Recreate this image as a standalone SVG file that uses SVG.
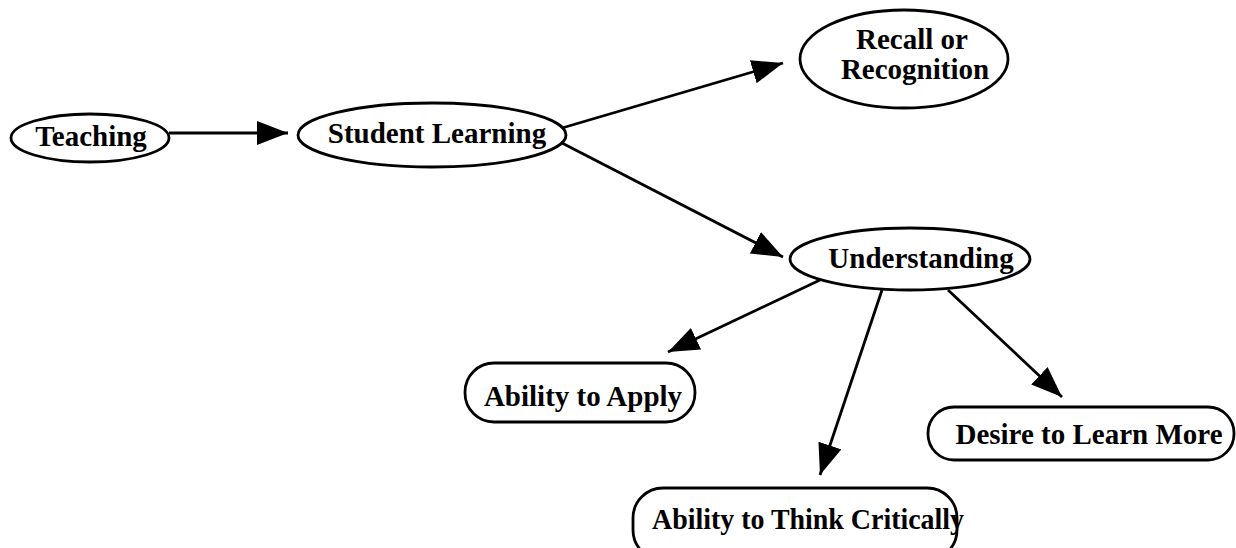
<svg xmlns="http://www.w3.org/2000/svg" width="1236" height="548" viewBox="0 0 1236 548">
<style>
.shape{fill:#fff;stroke:#000;stroke-width:2.8}
.lbl{font-family:"Liberation Serif","Times New Roman",serif;font-weight:bold;font-size:29px;fill:#000;text-anchor:middle}
.edge{stroke:#000;stroke-width:2.8;fill:none;marker-end:url(#ah)}
</style>
<defs>
<marker id="ah" markerUnits="userSpaceOnUse" markerWidth="34" markerHeight="28" refX="31" refY="12" orient="auto">
<path d="M0,0 L31,12 L0,24 z" fill="#000"/>
</marker>
</defs>
<rect width="1236" height="548" fill="#fff"/>
<g id="connectors">
<line class="edge" x1="169" y1="133" x2="288" y2="133"/>
<line class="edge" x1="562" y1="128" x2="783" y2="63"/>
<line class="edge" x1="562" y1="143" x2="783" y2="257"/>
<line class="edge" x1="820" y1="280" x2="668" y2="352"/>
<line class="edge" x1="882" y1="290" x2="820" y2="475"/>
<line class="edge" x1="948" y1="290" x2="1062" y2="397"/>
</g>
<g id="teaching">
<ellipse class="shape" cx="90" cy="138" rx="79" ry="24"/>
<text class="lbl" x="91" y="146">Teaching</text>
</g>
<g id="student-learning">
<ellipse class="shape" cx="432" cy="135" rx="134" ry="32"/>
<text class="lbl" x="437" y="143">Student Learning</text>
</g>
<g id="recall">
<ellipse class="shape" cx="904" cy="59" rx="104" ry="49"/>
<text class="lbl" x="912" y="49">Recall or</text>
<text class="lbl" x="915" y="79">Recognition</text>
</g>
<g id="understanding">
<ellipse class="shape" cx="910" cy="259" rx="120" ry="31"/>
<text class="lbl" x="921" y="268">Understanding</text>
</g>
<g id="ability-apply">
<rect class="shape" x="465" y="363" width="230" height="59" rx="29" ry="29"/>
<text class="lbl" x="583" y="406">Ability to Apply</text>
</g>
<g id="desire">
<rect class="shape" x="928" y="407" width="306" height="53" rx="26" ry="26"/>
<text class="lbl" x="1089" y="444">Desire to Learn More</text>
</g>
<g id="think-critically">
<rect class="shape" x="633" y="488" width="324" height="72" rx="30" ry="30"/>
<text class="lbl" x="652" y="529" style="text-anchor:start" textLength="312" lengthAdjust="spacingAndGlyphs">Ability to Think Critically</text>
</g>
</svg>
